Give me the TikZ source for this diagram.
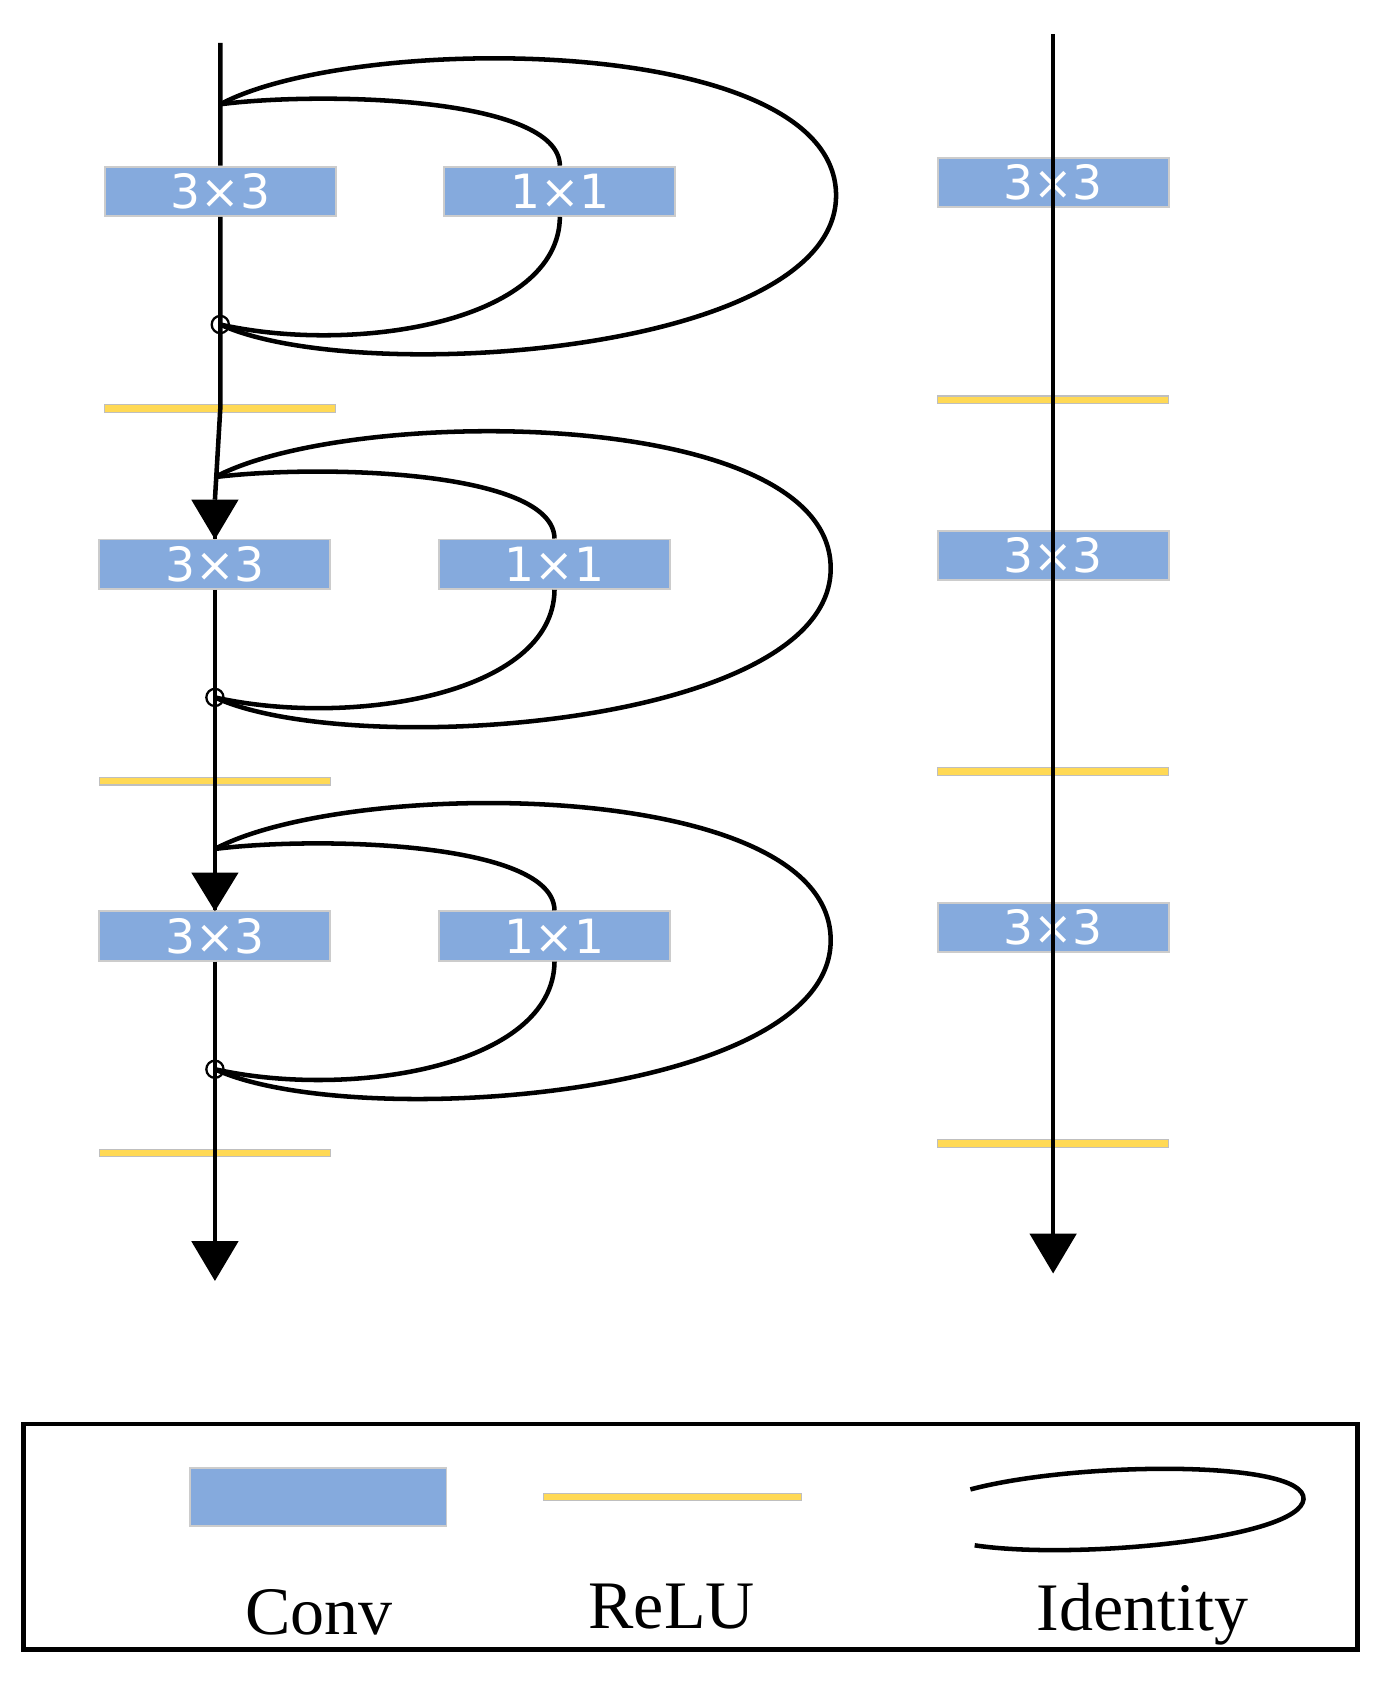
\documentclass[tikz,border=0pt]{standalone}
\usepackage{fontspec}
\setmainfont{Liberation Serif}
\newfontfamily\boxfont{DejaVu Sans}
\begin{document}
\begin{tikzpicture}[x=0.02cm,y=-0.02cm,
 conv/.style={draw=black!20,fill=convblue,line width=1pt,minimum width=215\pgfxyscale,minimum height=46\pgfxyscale,inner sep=0pt,text=white,font=\boxfont\fontsize{26}{26}\selectfont},
 conv/.style={draw=black!20,fill=convblue,line width=1pt,minimum width=4.3cm,minimum height=0.92cm,inner sep=0pt,text=white,font=\boxfont\fontsize{25}{25}\selectfont},
 relu/.style={draw=black!25,fill=reluyellow,line width=0.6pt,minimum width=4.3cm,minimum height=0.14cm,inner sep=0pt},
 main/.style={line width=2.4pt},
 arr/.style={fill=black},
 lbl/.style={font=\fontsize{36}{36}\selectfont}]
\definecolor{convblue}{HTML}{85AADD}
\definecolor{reluyellow}{HTML}{FFD955}
\useasboundingbox (0,0) rectangle (1290,1568);
% left column
\coordinate (Ltop) at (205,40);
\foreach \i/\dy/\dx in {1/0/0,2/347/-5,3/693/-5}{
  \node[conv] (a\i) at (205+\dx,178+\dy) {3×3};
  \node[conv] (b\i) at (521+\dx,178+\dy) {1×1};
  \node[relu] (r\i) at (205+\dx,380+\dy) {};
  \coordinate (s\i) at (205+\dx,97+\dy);
  \coordinate (p\i) at (205+\dx,302+\dy);
  \draw[main] (s\i) .. controls (300+\dx,85+\dy) and (520+\dx,90+\dy) .. (b\i.north);
  \draw[main] (b\i.south) .. controls (520+\dx,300+\dy) and (330+\dx,330+\dy) .. (p\i);
  \draw[main] (s\i) .. controls (330+\dx,30+\dy) and (780+\dx,30+\dy) .. (778+\dx,183+\dy)
     .. controls (776+\dx,330+\dy) and (330+\dx,360+\dy) .. (p\i);
  \draw[line width=1.2pt] (p\i) circle (8);
}
\coordinate (Lend) at (200,1192);
\draw[main] (Ltop) -- (a1) -- (p1) -- (r1.center) -- (200,465);
\draw[main] (200,465) -- (a2) -- (p2) -- (r2.center) -- (200,812);
\draw[main] (200,812) -- (a3) -- (p3) -- (r3.center) -- (200,1155);
\fill[arr] (178,465) -- (222,465) -- (200,502) -- cycle;
\fill[arr] (178,812) -- (222,812) -- (200,848) -- cycle;
\fill[arr] (178,1155) -- (222,1155) -- (Lend) -- cycle;
% right column
\coordinate (Rtop) at (980,32);
\node[conv] (c1) at (980,170) {3×3};
\node[conv] (c2) at (980,517) {3×3};
\node[conv] (c3) at (980,863) {3×3};
\node[relu] (q1) at (980,372) {};
\node[relu] (q2) at (980,718) {};
\node[relu] (q3) at (980,1064) {};
\coordinate (Rend) at (980,1185);
\draw[main] (Rtop) -- (980,1148);
\fill[arr] (958,1148) -- (1002,1148) -- (Rend) -- cycle;
% legend
\draw[line width=2.4pt] (22,1325) rectangle (1263,1535);
\node[draw=black!20,fill=convblue,line width=1pt,minimum width=4.78cm,minimum height=1.08cm,inner sep=0pt] (lc) at (296,1393) {};
\node[relu,minimum width=4.8cm] (lr) at (626,1393) {};
\draw[main] (903,1386) .. controls (1000,1360) and (1215,1358) .. (1213,1395) .. controls (1210,1432) and (1000,1452) .. (907,1438);
\node[lbl] (t1) at (297,1500) {Conv};
\node[lbl] (t2) at (625,1495) {ReLU};
\node[lbl] (t3) at (1063,1502) {Identity};
\end{tikzpicture}
\end{document}
